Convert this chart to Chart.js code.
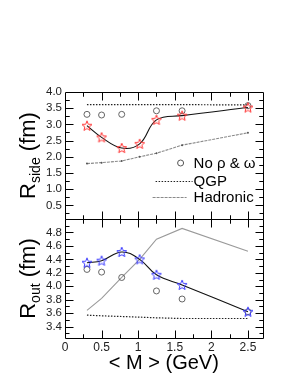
<!DOCTYPE html>
<html>
<head>
<meta charset="utf-8">
<script src="https://cdn.jsdelivr.net/npm/chart.js@4"></script>
<style>
  html, body { margin: 0; padding: 0; background: #fff; }
  #wrap { position: relative; width: 298px; height: 385px; }
  canvas { position: absolute; left: 0; top: 0; }
</style>
</head>
<body>
<div id="wrap">
  <canvas id="side" width="298" height="385"></canvas>
  <canvas id="out" width="298" height="385"></canvas>
</div>
<script>
// pair mass bins (GeV)
const masses = [0.3, 0.5, 0.775, 1.02, 1.25, 1.6, 2.5];
const noRhoMasses = [0.3, 0.5, 0.775, 1.25, 1.6, 2.5];

// R_side (fm)
const sideFull = [2.96, 2.60, 2.27, 2.40, 3.14, 3.27, 3.52];
const sideNoRho = [3.31, 3.29, 3.31, 3.42, 3.42, 3.58];
const sideQGP = [3.61, 3.61, 3.61, 3.61, 3.61, 3.61, 3.60];
const sideHadronic = [1.79, 1.82, 1.87, 2.00, 2.11, 2.36, 2.74];

// R_out (fm)
const outFull = [4.35, 4.38, 4.51, 4.40, 4.17, 4.02, 3.62];
const outNoRho = [4.25, 4.21, 4.13, 3.93, 3.81, 3.62];
const outQGP = [3.57, 3.56, 3.55, 3.54, 3.53, 3.52, 3.52];
const outHadronic = [3.64, 3.82, 4.13, 4.40, 4.70, 4.86, 4.52];

// tick labels
const massTicks = [0, 0.5, 1, 1.5, 2, 2.5];
const sideTicks = [0.5, 1.0, 1.5, 2.0, 2.5, 3.0, 3.5, 4.0];
const outTicks = [3.4, 3.6, 3.8, 4.0, 4.2, 4.4, 4.6, 4.8];

const FONT = "'Liberation Sans', Arial, Helvetica, sans-serif";

const pts = (xs, ys) => xs.map((x, i) => ({ x: x, y: ys[i] }));

function starImage(color) {
  const c = document.createElement("canvas");
  c.width = 12; c.height = 12;
  const g = c.getContext("2d");
  g.beginPath();
  for (let i = 0; i < 10; i++) {
    const r = i % 2 ? 2.3 : 5.2;
    const a = -Math.PI / 2 + i * Math.PI / 5;
    const px = 6 + r * Math.cos(a), py = 6.4 + r * Math.sin(a);
    if (i) g.lineTo(px, py); else g.moveTo(px, py);
  }
  g.closePath();
  g.strokeStyle = color;
  g.lineWidth = 1;
  g.stroke();
  return c;
}

// box with inward ticks on all four sides, like the original plot
function framePlugin(xMajors, yMajors) {
  const withMinors = (majors) => {
    const step = majors[1] - majors[0];
    const minors = [];
    majors.forEach(v => { minors.push(v - step / 2, v + step / 2); });
    return { majors, minors };
  };
  const xs = withMinors(xMajors), ys = withMinors(yMajors);
  return {
    id: "frame",
    afterDatasetsDraw(chart) {
      const { ctx, chartArea: a, scales } = chart;
      const L = Math.round(a.left) + 0.5, R = Math.round(a.right) + 0.5;
      const T = Math.round(a.top) + 0.5, B = Math.round(a.bottom) + 0.5;
      ctx.save();
      ctx.strokeStyle = "#000";
      ctx.lineWidth = 1;
      ctx.setLineDash([]);
      ctx.beginPath();
      const xt = (list, len) => list.forEach(v => {
        if (v <= scales.x.min || v >= scales.x.max) return;
        const px = Math.round(scales.x.getPixelForValue(v)) + 0.5;
        ctx.moveTo(px, B); ctx.lineTo(px, B - len);
        ctx.moveTo(px, T); ctx.lineTo(px, T + len);
      });
      const yt = (list, len) => list.forEach(v => {
        if (v <= scales.y.min || v >= scales.y.max) return;
        const py = Math.round(scales.y.getPixelForValue(v)) + 0.5;
        ctx.moveTo(L, py); ctx.lineTo(L + len, py);
        ctx.moveTo(R, py); ctx.lineTo(R - len, py);
      });
      xt(xs.majors, 8); xt(xs.minors, 4);
      yt(ys.majors, 8); yt(ys.minors, 4);
      ctx.moveTo(L, T); ctx.lineTo(R, T); ctx.lineTo(R, B); ctx.lineTo(L, B); ctx.closePath();
      ctx.stroke();
      ctx.restore();
    }
  };
}

// rotated y title with a subscript
function yTitlePlugin(main, sub, rest) {
  return {
    id: "ytitle",
    afterDraw(chart) {
      const { ctx, chartArea: a } = chart;
      const big = "22px " + FONT, small = "14px " + FONT;
      ctx.save();
      ctx.translate(35, (a.top + a.bottom) / 2);
      ctx.rotate(-Math.PI / 2);
      ctx.fillStyle = "#000";
      ctx.textBaseline = "alphabetic";
      ctx.font = big; const w1 = ctx.measureText(main).width;
      ctx.font = small; const w2 = ctx.measureText(sub).width;
      ctx.font = big; const w3 = ctx.measureText(" " + rest).width;
      let x = -(w1 + w2 + w3) / 2;
      ctx.font = big; ctx.fillText(main, x, 0); x += w1;
      ctx.font = small; ctx.fillText(sub, x, 5); x += w2;
      ctx.font = big; ctx.fillText(" " + rest, x, 0);
      ctx.restore();
    }
  };
}

// legend inside the top panel
const legendPlugin = {
  id: "boxlegend",
  afterDraw(chart) {
    const { ctx, chartArea: a } = chart;
    const ds = chart.data.datasets;
    const tx = a.right - 69;
    ctx.save();
    ctx.font = "15px " + FONT;
    ctx.fillStyle = "#000";
    ctx.textBaseline = "middle";
    ctx.lineWidth = 1;
    // circles
    let y = a.top + 71;
    ctx.strokeStyle = ds[1].borderColor;
    ctx.beginPath(); ctx.arc(tx - 13, y, 3, 0, Math.PI * 2); ctx.stroke();
    ctx.fillText(ds[1].label, tx, y + 1);
    // qgp
    y = a.top + 89;
    ctx.strokeStyle = ds[2].borderColor;
    ctx.setLineDash([1.5, 1.5]);
    ctx.beginPath(); ctx.moveTo(tx - 38, y + 0.5); ctx.lineTo(tx - 1, y + 0.5); ctx.stroke();
    ctx.fillText(ds[2].label, tx, y + 1);
    // hadronic
    y = a.top + 105;
    ctx.strokeStyle = ds[3].borderColor;
    ctx.setLineDash([3, 1]);
    ctx.beginPath(); ctx.moveTo(tx - 41, y + 0.5); ctx.lineTo(tx - 7, y + 0.5); ctx.stroke();
    ctx.setLineDash([]);
    ctx.fillText(ds[3].label, tx, y + 1);
    ctx.restore();
  }
};

function panel(id, cfg) {
  const datasets = [
    {
      label: "full",
      data: pts(masses, cfg.full),
      borderColor: "#111",
      borderWidth: 1.1,
      tension: 0.4,
      pointStyle: starImage(cfg.starColor),
      pointRadius: 5,
      order: 0,
    },
    {
      label: "No \u03c1 & \u03c9",
      data: pts(noRhoMasses, cfg.noRho),
      showLine: false,
      borderColor: "#555",
      backgroundColor: "rgba(0,0,0,0)",
      borderWidth: 0.9,
      pointStyle: "circle",
      pointRadius: 3,
      order: 1,
    },
    {
      label: "QGP",
      data: pts(masses, cfg.qgp),
      borderColor: "#222",
      borderWidth: 1.2,
      borderDash: [1.5, 1.5],
      pointRadius: 0,
      order: 2,
    },
    {
      label: "Hadronic",
      data: pts(masses, cfg.hadronic),
      borderColor: cfg.hadColor,
      borderWidth: 1.1,
      borderDash: cfg.hadDash,
      pointRadius: cfg.hadPoints,
      pointBackgroundColor: "#555",
      pointBorderWidth: 0,
      order: 3,
    },
  ];

  const plugins = [framePlugin(massTicks, cfg.ticks), yTitlePlugin("R", cfg.sub, "(fm)")];
  if (cfg.legend) plugins.push(legendPlugin);

  return new Chart(document.getElementById(id), {
    type: "line",
    data: { datasets },
    plugins,
    options: {
      responsive: false,
      animation: false,
      layout: { padding: { left: 0, right: 35.4, top: cfg.top, bottom: cfg.bottomPad } },
      plugins: {
        legend: { display: false },
        tooltip: { enabled: false },
      },
      scales: {
        x: {
          type: "linear",
          min: 0,
          max: 2.7,
          display: cfg.showX,
          afterBuildTicks: (s) => { s.ticks = massTicks.map(v => ({ value: v })); },
          afterFit: (s) => { s.height = cfg.showX ? 47 : 0; },
          grid: { display: false, drawTicks: false },
          border: { display: false },
          ticks: {
            padding: 2,
            color: "#222",
            font: { family: FONT, size: 12 },
            callback: (v) => String(v),
          },
          title: {
            display: true,
            text: "< M > (GeV)",
            color: "#000",
            font: { family: FONT, size: 20 },
            padding: { top: 0, bottom: 10 },
          },
        },
        y: {
          min: cfg.min,
          max: cfg.max,
          afterBuildTicks: (s) => { s.ticks = cfg.ticks.map(v => ({ value: v })); },
          afterFit: (s) => { s.width = 65; },
          grid: { display: false, drawTicks: false },
          border: { display: false },
          ticks: {
            padding: 3,
            color: "#222",
            font: { family: FONT, size: 11.5 },
            callback: (v) => v.toFixed(1),
          },
        },
      },
    },
  });
}

panel("side", {
  full: sideFull, noRho: sideNoRho, qgp: sideQGP, hadronic: sideHadronic,
  starColor: "#ff3535", hadColor: "#8a8a8a", hadDash: [3, 1], hadPoints: 1,
  ticks: sideTicks, min: 0.08, max: 4.0, sub: "side",
  top: 92, bottomPad: 166, showX: false, legend: true,
});

panel("out", {
  full: outFull, noRho: outNoRho, qgp: outQGP, hadronic: outHadronic,
  starColor: "#3a3aff", hadColor: "#9a9a9a", hadDash: [], hadPoints: 0,
  ticks: outTicks, min: 3.23, max: 5.0, sub: "out",
  top: 219, bottomPad: 0, showX: true, legend: false,
});
</script>
</body>
</html>
